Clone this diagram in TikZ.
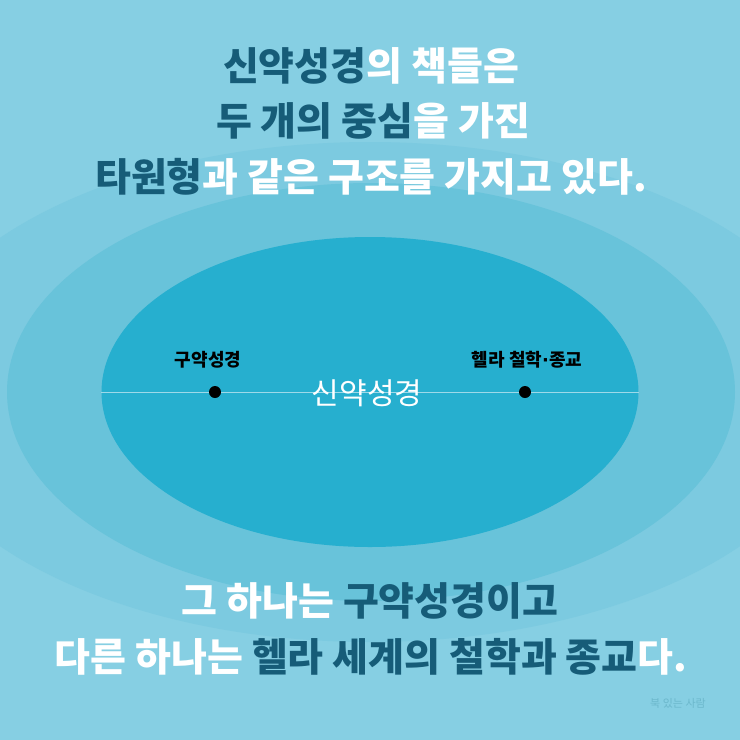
\documentclass[tikz,border=0pt]{standalone}
\usepackage{fontspec}
\usepackage{xcolor}
\usetikzlibrary{shapes.geometric}
\usetikzlibrary{positioning}

\newfontfamily\kr{Noto Sans CJK KR}
\newfontfamily\dv{DejaVu Sans}

\definecolor{fond}{RGB}{134,207,227}
\definecolor{anneau}{RGB}{124,202,224}
\definecolor{milieu}{RGB}{104,195,218}
\definecolor{interieur}{RGB}{38,175,207}
\definecolor{fonce}{RGB}{22,92,120}
\definecolor{filigrane}{RGB}{108,184,204}

\begin{document}
\begin{tikzpicture}[x=1pt,y=-1pt]

\tikzset{
    ligne/.style = {draw=fond!80!white, line width=0.8pt},
    point/.style = {circle, fill=black, minimum size=12pt, inner sep=0pt}
}

\tikzstyle{titre}=[font=\kr\bfseries\fontsize{39}{44}\selectfont, text=white, inner sep=0pt]
\tikzstyle{etiquette}=[font=\kr\bfseries\fontsize{18}{20}\selectfont, text=black, inner sep=0pt]

\useasboundingbox (0,0) rectangle (740,740);
\fill[fond] (0,0) rectangle (740,740);
\clip (0,0) rectangle (740,740);

\fill[anneau] (370,392) ellipse [x radius=470, y radius=250];
\fill[milieu] (371,392) ellipse [x radius=364, y radius=209];

\node (nt) [ellipse, fill=interieur, minimum width=537pt, minimum height=310pt, inner sep=0pt] at (370,392) {};
\draw[ligne] (nt.west) -- (nt.east);

\node (ot) [point] at (215,392) {};
\node (hel) [point] at (525,392) {};

\node (ot-l) [etiquette, above=17pt of ot, xshift=-7pt] {구약성경};
\node (hel-l) [etiquette, above=17pt of hel, xshift=2pt] {헬라 철학{\dv\bfseries ·}종교};

\node (nt-l) [font=\kr\fontsize{30}{33}\selectfont, text=white, inner sep=0pt] at (367,393) {신약성경};

\node (t1) [titre] at (371,66) {{\color{fonce}신약성경}의 책들은};
\node (t2) [titre] at (373,121) {{\color{fonce}두 개의 중심}을 가진};
\node (t3) [titre] at (371,177) {{\color{fonce}타원형}과 같은 구조를 가지고 있다.};

\node (b1) [titre] at (370,601) {그 하나는 {\color{fonce}구약성경이고}};
\node (b2) [titre] at (371,657) {다른 하나는 {\color{fonce}헬라 세계의 철학과 종교}다.};

\node (sig) [font=\kr\fontsize{11}{12}\selectfont, text=filigrane, inner sep=0pt] at (678,703) {북 있는 사람};

\end{tikzpicture}
\end{document}
